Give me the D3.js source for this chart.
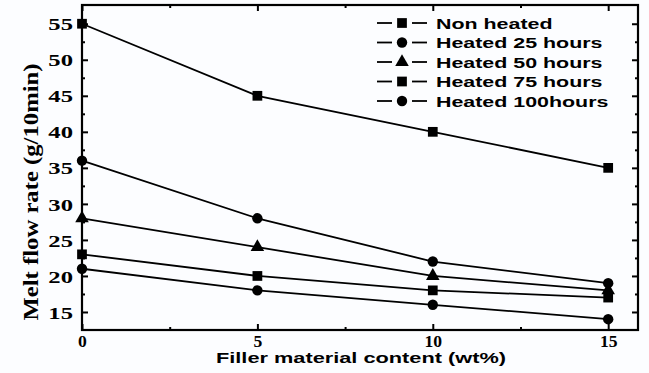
<!DOCTYPE html>
<html>
<head>
<meta charset="utf-8">
<script src="https://cdn.jsdelivr.net/npm/d3@7"></script>
<style>
  body { margin: 0; background: #fcfdff; }
  svg { display: block; }
</style>
</head>
<body>
<div id="chart"></div>
<script>
// data ---------------------------------------------------------------
const fillerContent = [0, 5, 10, 15];
const seriesNames = ['Non heated', 'Heated 25 hours', 'Heated 50 hours', 'Heated 75 hours', 'Heated 100hours'];
const nonHeated = [55, 45, 40, 35];
const heated25 = [36, 28, 22, 19];
const heated50 = [28, 24, 20, 18];
const heated75 = [23, 20, 18, 17];
const heated100 = [21, 18, 16, 14];
const markerShapes = ['square', 'circle', 'triangle', 'square', 'circle'];
const xTickValues = [0, 5, 10, 15];
const yTickValues = [15, 20, 25, 30, 35, 40, 45, 50, 55];

const allSeries = [nonHeated, heated25, heated50, heated75, heated100];

// size ----------------------------------------------------------------
const width = 649;
const height = 373;
const margin = { top: 5, right: 11, bottom: 43, left: 82 };

const svg = d3.select('#chart').append('svg')
  .attr('width', width)
  .attr('height', height);

const x = d3.scaleLinear()
  .domain([0, 15.85])
  .range([margin.left, width - margin.right]);
const y = d3.scaleLinear()
  .domain([12.5, 57.6])
  .range([height - margin.bottom, margin.top]);

const symbolFor = s => {
  if (s === 'circle') return d3.symbol().type(d3.symbolCircle).size(85);
  if (s === 'triangle') return d3.symbol().type(d3.symbolTriangle).size(80);
  return d3.symbol().type(d3.symbolSquare).size(95);
};

// 文字を横に伸ばす (元画像は横長に引き伸ばされている)
const stretch = (sel, f) => {
  sel.each(function () {
    const w = this.getComputedTextLength();
    d3.select(this).attr('textLength', w * f).attr('lengthAdjust', 'spacingAndGlyphs');
  });
};

// axes (ticks inward, mirrored) ---------------------------------------
const gx = svg.append('g').attr('transform', `translate(0,${height - margin.bottom})`);
gx.call(d3.axisBottom(x).tickValues(xTickValues).tickSizeInner(-6).tickSizeOuter(0).tickFormat(d3.format('d')));
gx.selectAll('text')
  .attr('y', 17)
  .attr('dy', 0)
  .style('font-family', '"Liberation Serif", "Times New Roman", serif')
  .style('font-weight', 'bold')
  .style('font-size', '16px')
  .attr('fill', '#000');
stretch(gx.selectAll('text'), 1.1);
gx.append('g').call(d3.axisBottom(x).tickValues([2.5, 7.5, 12.5]).tickSizeInner(-3).tickSizeOuter(0).tickFormat(''));

const gxTop = svg.append('g').attr('transform', `translate(0,${margin.top})`);
gxTop.call(d3.axisTop(x).tickValues(xTickValues).tickSizeInner(-6).tickSizeOuter(0).tickFormat(''));
gxTop.append('g').call(d3.axisTop(x).tickValues([2.5, 7.5, 12.5]).tickSizeInner(-3).tickSizeOuter(0).tickFormat(''));

const gy = svg.append('g').attr('transform', `translate(${margin.left},0)`);
gy.call(d3.axisLeft(y).tickValues(yTickValues).tickSizeInner(-6).tickSizeOuter(0).tickPadding(9));
gy.selectAll('text')
  .attr('dy', '0.36em')
  .style('font-family', '"Liberation Serif", "Times New Roman", serif')
  .style('font-weight', 'bold')
  .style('font-size', '17px')
  .attr('fill', '#000');
stretch(gy.selectAll('text'), 1.45);
gy.append('g').call(d3.axisLeft(y).tickValues(d3.range(17.5, 57.5, 5)).tickSizeInner(-3).tickSizeOuter(0).tickFormat(''));

const gyR = svg.append('g').attr('transform', `translate(${width - margin.right},0)`);
gyR.call(d3.axisRight(y).tickValues(yTickValues).tickSizeInner(-6).tickSizeOuter(0).tickFormat(''));
gyR.append('g').call(d3.axisRight(y).tickValues(d3.range(17.5, 57.5, 5)).tickSizeInner(-3).tickSizeOuter(0).tickFormat(''));

svg.selectAll('.tick line').attr('stroke', '#000').attr('stroke-width', 2);
svg.selectAll('.domain').remove();

// frame
svg.append('rect')
  .attr('x', margin.left)
  .attr('y', margin.top)
  .attr('width', width - margin.right - margin.left)
  .attr('height', height - margin.bottom - margin.top)
  .attr('fill', 'none')
  .attr('stroke', '#000')
  .attr('stroke-width', 2.2);

// axis titles
svg.append('text')
  .attr('transform', 'translate(38,192) rotate(-90)')
  .attr('text-anchor', 'middle')
  .style('font-family', '"Liberation Serif", "Times New Roman", serif')
  .style('font-weight', 'bold')
  .style('font-size', '21px')
  .attr('textLength', 257)
  .attr('lengthAdjust', 'spacingAndGlyphs')
  .text('Melt flow rate (g/10min)');

svg.append('text')
  .attr('x', 361)
  .attr('y', 363)
  .attr('text-anchor', 'middle')
  .style('font-family', '"Liberation Sans", Arial, sans-serif')
  .style('font-weight', 'bold')
  .style('font-size', '15px')
  .attr('textLength', 290)
  .attr('lengthAdjust', 'spacingAndGlyphs')
  .text('Filler material content (wt%)');

// lines + markers -----------------------------------------------------
const line = d3.line()
  .x((d, i) => x(fillerContent[i]))
  .y(d => y(d));

allSeries.forEach((vals, k) => {
  svg.append('path')
    .datum(vals)
    .attr('d', line)
    .attr('fill', 'none')
    .attr('stroke', '#000')
    .attr('stroke-width', 1.8);
  svg.append('g').selectAll('path')
    .data(vals)
    .enter()
    .append('path')
    .attr('transform', (d, i) => `translate(${x(fillerContent[i])},${y(d)})`)
    .attr('d', symbolFor(markerShapes[k])())
    .attr('fill', '#000');
});

// legend --------------------------------------------------------------
const legend = svg.append('g').attr('transform', 'translate(377,23)');
seriesNames.forEach((name, i) => {
  const row = legend.append('g').attr('transform', `translate(0,${i * 19.5})`);
  row.append('line').attr('x1', 0).attr('x2', 15).attr('stroke', '#000').attr('stroke-width', 1.8);
  row.append('line').attr('x1', 35).attr('x2', 50).attr('stroke', '#000').attr('stroke-width', 1.8);
  row.append('path')
    .attr('transform', 'translate(25,0)')
    .attr('d', symbolFor(markerShapes[i])())
    .attr('fill', '#000');
  const t = row.append('text')
    .attr('x', 59)
    .attr('y', 5.5)
    .style('font-family', '"Liberation Sans", Arial, sans-serif')
    .style('font-weight', 'bold')
    .style('font-size', '15.5px')
    .text(name);
  stretch(t, 1.38);
});
</script>
</body>
</html>
